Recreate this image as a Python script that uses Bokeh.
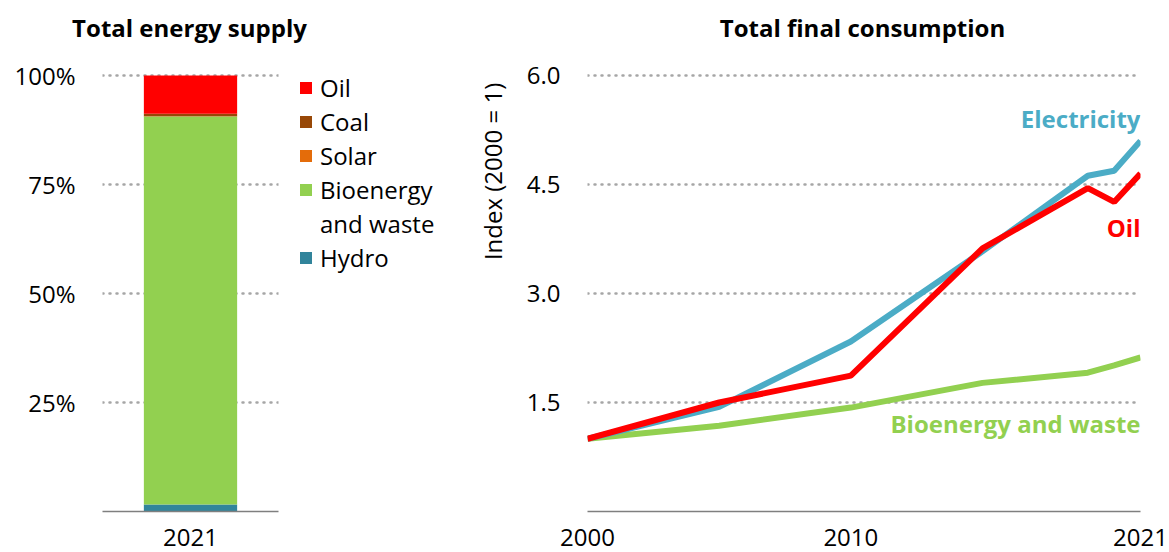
import math
from bokeh.plotting import figure
from bokeh.layouts import row, column
from bokeh.models import (FactorRange, Range1d, FixedTicker, Legend, LegendItem, Label,
                          ColumnDataSource, PrintfTickFormatter)
from bokeh.embed import file_html
from bokeh.resources import INLINE

# ---------------- data ----------------
supply_year = ["2021"]
supply_sources = ["Hydro", "Bioenergy and waste", "Solar", "Coal", "Oil"]
supply_share = [1.6, 89.0, 0.05, 0.6, 8.75]   # % of total energy supply
supply_colors = ["#31849B", "#92D050", "#E46C0A", "#984807", "#FF0000"]

tfc_years = [2000, 2005, 2010, 2015, 2019, 2020, 2021]
electricity = [1.0, 1.44, 2.34, 3.58, 4.62, 4.69, 5.10]
oil = [1.0, 1.50, 1.87, 3.62, 4.45, 4.26, 4.65]
bioenergy = [1.0, 1.18, 1.43, 1.77, 1.91, 2.01, 2.12]

left_ticks = [25, 50, 75, 100]
right_ticks = [1.5, 3.0, 4.5, 6.0]
right_xticks = [2000, 2010, 2021]

FONT = "Open Sans"
FS = "24px"
GRID_COLOR = "#A6A6A6"
AXIS_COLOR = "#7F7F7F"
W = 1169
TH = 50          # title strip height
H = 552 - TH     # chart row height
TOP = 20
BOTTOM = 41
FRAME_H = H - TOP - BOTTOM        # 441 px
PLOT_H = 436                      # px from 0 to top gridline
EXTRA = FRAME_H / PLOT_H          # head-room above the top gridline


def style(p):
    p.outline_line_color = None
    p.background_fill_color = "white"
    p.xgrid.visible = False
    p.ygrid.grid_line_color = GRID_COLOR
    p.ygrid.grid_line_dash = "1 6"
    p.ygrid.grid_line_width = 2.5
    p.ygrid.grid_line_cap = "round"
    for ax in (p.xaxis[0], p.yaxis[0]):
        ax.major_label_text_font = FONT
        ax.major_label_text_font_size = FS
        ax.major_label_text_color = "black"
        ax.major_tick_line_color = None
        ax.minor_tick_line_color = None
        ax.major_tick_out = 0
        ax.major_tick_in = 0
    p.yaxis[0].axis_line_color = None
    p.yaxis[0].major_label_standoff = 27
    p.xaxis[0].axis_line_color = AXIS_COLOR
    p.xaxis[0].axis_line_width = 1.3
    p.xaxis[0].major_label_standoff = 17


def blank_fig(width, x_range, y_range):
    f = figure(width=width, height=H, x_range=x_range, y_range=y_range,
               x_axis_type=None, y_axis_type=None, output_backend="svg",
               toolbar_location=None, min_border_left=0, min_border_right=0,
               min_border_top=TOP, min_border_bottom=BOTTOM)
    f.outline_line_color = None
    f.xgrid.visible = False
    f.ygrid.visible = False
    return f


# ---------------- title strip ----------------
pt = figure(width=W, height=TH, x_range=Range1d(0, W), y_range=Range1d(TH, 0),
            x_axis_type=None, y_axis_type=None, output_backend="svg",
            toolbar_location=None, min_border=0)
pt.outline_line_color = None
pt.xgrid.visible = False
pt.ygrid.visible = False
for txt, cx in [("Total energy supply", 189), ("Total final consumption", 862)]:
    pt.add_layout(Label(x=cx, y=27, text=txt, text_align="center", text_baseline="middle",
                        text_font=FONT, text_font_size=FS, text_font_style="bold",
                        text_color="black"))

# ---------------- left: total energy supply ----------------
W1 = 290
p1 = figure(width=W1, height=H, x_range=FactorRange(factors=supply_year),
            y_range=Range1d(0, 100 * EXTRA), output_backend="svg", toolbar_location=None,
            min_border_left=102, min_border_right=W1 - 102 - 176, min_border_top=TOP,
            min_border_bottom=BOTTOM)
src1 = ColumnDataSource(dict(year=supply_year, **{s: [v] for s, v in zip(supply_sources, supply_share)}))
p1.vbar_stack(supply_sources, x="year", width=0.53, color=supply_colors,
              line_color=None, source=src1)
style(p1)
p1.yaxis[0].ticker = FixedTicker(ticks=left_ticks)
p1.ygrid.ticker = FixedTicker(ticks=left_ticks)
p1.yaxis[0].formatter = PrintfTickFormatter(format="%d%%")

# ---------------- legend panel (proxy renderers are not drawn: other factor) ----------------
WL = 173
pl = blank_fig(WL, FactorRange(factors=["legend"]), Range1d(0, 100 * EXTRA))
lrs = pl.vbar_stack(supply_sources, x="year", width=0.5, color=supply_colors,
                    line_color=None, source=src1)
lr = dict(zip(supply_sources, lrs))
blank = pl.vbar(x="year", top="Hydro", width=0.5, source=src1, fill_alpha=0, line_alpha=0)
legend = Legend(items=[
    LegendItem(label="Oil", renderers=[lr["Oil"]]),
    LegendItem(label="Coal", renderers=[lr["Coal"]]),
    LegendItem(label="Solar", renderers=[lr["Solar"]]),
    LegendItem(label="Bioenergy", renderers=[lr["Bioenergy and waste"]]),
    LegendItem(label="and waste", renderers=[blank]),
    LegendItem(label="Hydro", renderers=[lr["Hydro"]]),
], location=(8, 237), glyph_width=15, glyph_height=15, label_standoff=7,
    label_height=34, spacing=0, padding=0, margin=0, border_line_color=None,
    background_fill_alpha=0, label_text_font=FONT, label_text_font_size=FS,
    label_text_color="black", label_text_baseline="middle")
pl.add_layout(legend)

# ---------------- y-axis title of the right chart ----------------
y2 = Range1d(0, 6 * EXTRA)
WI = 57
pi_ = blank_fig(WI, Range1d(0, 1), y2)
pi_.add_layout(Label(x=0.5, y=4.68, text="Index (2000 = 1)", angle=math.pi / 2,
                     text_align="center", text_baseline="middle", text_font=FONT,
                     text_font_size=FS, text_color="black"))

# ---------------- right: total final consumption ----------------
W2 = W - W1 - WL - WI
LB2 = 587 - W1 - WL - WI
p2 = figure(width=W2, height=H, x_range=Range1d(2000, 2021), y_range=y2,
            output_backend="svg", toolbar_location=None,
            min_border_left=LB2, min_border_right=W2 - LB2 - 553, min_border_top=TOP,
            min_border_bottom=BOTTOM)
src2 = ColumnDataSource(dict(year=tfc_years, elec=electricity, oil=oil, bio=bioenergy))
p2.line("year", "bio", source=src2, line_width=6, color="#92D050")
p2.line("year", "elec", source=src2, line_width=6, color="#4BACC6")
p2.line("year", "oil", source=src2, line_width=6, color="#FF0000")
style(p2)
p2.yaxis[0].ticker = FixedTicker(ticks=right_ticks)
p2.ygrid.ticker = FixedTicker(ticks=right_ticks)
p2.yaxis[0].formatter = PrintfTickFormatter(format="%.1f")
p2.xaxis[0].ticker = FixedTicker(ticks=right_xticks)

for txt, yv, col in [("Electricity", 5.41, "#4BACC6"), ("Oil", 3.91, "#FF0000"),
                     ("Bioenergy and waste", 1.21, "#92D050")]:
    p2.add_layout(Label(x=2021, y=yv, text=txt, text_align="right", text_baseline="middle",
                        text_color=col, text_font=FONT, text_font_size=FS,
                        text_font_style="bold"))

layout = column(pt, row(p1, pl, pi_, p2))
open("out.html", "w").write(file_html(layout, INLINE))
